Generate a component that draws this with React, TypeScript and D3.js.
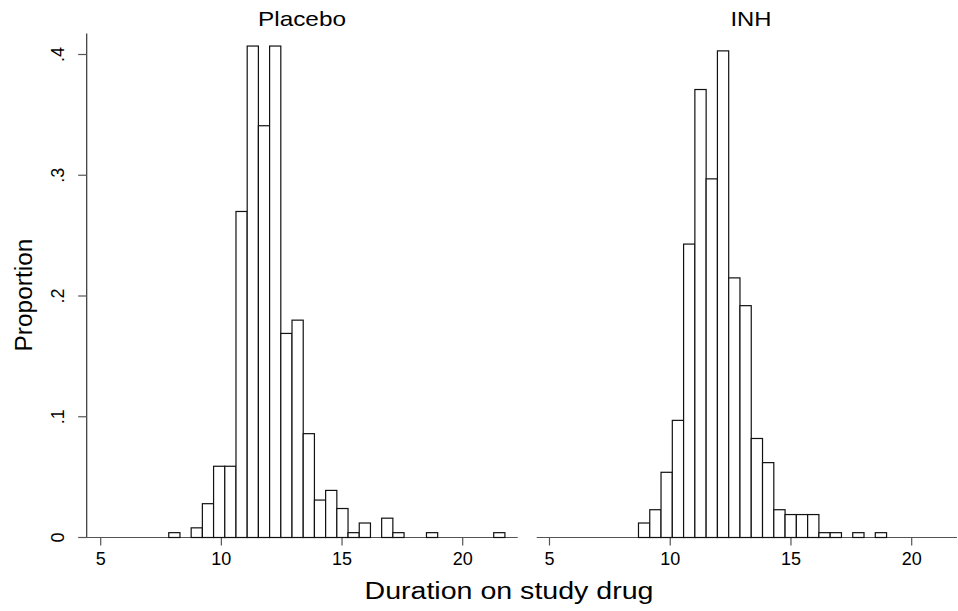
import React from 'react'
import { scaleLinear } from 'd3'

// Histogram bins (density scale, shown as "Proportion")
const placeboStart = 7.82
const placeboWidth = 0.4643
const placeboHeights = [
  0.004, 0, 0.008, 0.028, 0.059, 0.059, 0.270, 0.407, 0.341, 0.407,
  0.169, 0.180, 0.086, 0.031, 0.039, 0.024, 0.004, 0.012, 0, 0.016,
  0.004, 0, 0, 0.004, 0, 0, 0, 0, 0, 0.004,
]

const inhStart = 8.685
const inhWidth = 0.467
const inhHeights = [
  0.012, 0.023, 0.054, 0.097, 0.243, 0.371, 0.297, 0.403, 0.215, 0.192,
  0.082, 0.062, 0.023, 0.019, 0.019, 0.019, 0.004, 0.004, 0, 0.004,
  0, 0.004,
]

const xTicks = [5, 10, 15, 20]
const yTicks = [0, 0.1, 0.2, 0.3, 0.4]
const yTickLabels = ['0', '.1', '.2', '.3', '.4']

const panels = [
  { title: 'Placebo', start: placeboStart, width: placeboWidth, heights: placeboHeights,
    range: [100.7, 462.7], axisFrom: 86.7, axisTo: 517.7, titleX: 302, titleLen: 88 },
  { title: 'INH', start: inhStart, width: inhWidth, heights: inhHeights,
    range: [549.5, 911.7], axisFrom: 536.7, axisTo: 957, titleX: 751, titleLen: 41 },
]

const font = '"Liberation Sans", Arial, Helvetica, sans-serif'

const App = () => {
  const yScale = scaleLinear().domain([0, 0.4]).range([537.5, 54.5])
  const yAxisX = 86.7

  return (
    <svg width={958} height={611} style={{ position: 'absolute', left: 0, top: 0, background: '#fff' }}
      fontFamily={font}>
      <rect width={958} height={611} fill="#fff" />

      {/* y axis */}
      <line x1={yAxisX} x2={yAxisX} y1={33.5} y2={yScale(0)} stroke="#333" strokeWidth={1.2} />
      {yTicks.map((t, i) => (
        <g key={t}>
          <line x1={yAxisX - 8.5} x2={yAxisX} y1={yScale(t)} y2={yScale(t)} stroke="#555" strokeWidth={1.2} />
          <text transform={`translate(64,${yScale(t)}) rotate(-90)`} textAnchor="middle"
            fontSize={18} fill="#000">{yTickLabels[i]}</text>
        </g>
      ))}
      <text transform="translate(31.5,295) rotate(-90)" textAnchor="middle" fontSize={23}
        textLength={113} lengthAdjust="spacingAndGlyphs" fill="#000">Proportion</text>

      {panels.map((p) => {
        const xScale = scaleLinear().domain([5, 20]).range(p.range)
        return (
          <g key={p.title}>
            <text x={p.titleX} y={25.7} textAnchor="middle" fontSize={21}
              textLength={p.titleLen} lengthAdjust="spacingAndGlyphs" fill="#000">{p.title}</text>
            <line x1={p.axisFrom} x2={p.axisTo} y1={yScale(0)} y2={yScale(0)} stroke="#555" strokeWidth={1.2} />
            {xTicks.map((t) => (
              <g key={t}>
                <line x1={xScale(t)} x2={xScale(t)} y1={yScale(0)} y2={yScale(0) + 8} stroke="#555" strokeWidth={1.2} />
                <text x={xScale(t)} y={565} textAnchor="middle" fontSize={18} fill="#000">{t}</text>
              </g>
            ))}
            {p.heights.map((h, i) => {
              if (h <= 0) return null
              const x0 = xScale(p.start + i * p.width)
              const x1 = xScale(p.start + (i + 1) * p.width)
              return (
                <rect key={i} x={x0} y={yScale(h)} width={x1 - x0} height={yScale(0) - yScale(h)}
                  fill="#fff" stroke="#111" strokeWidth={1.2} />
              )
            })}
          </g>
        )
      })}

      <text x={509} y={599} textAnchor="middle" fontSize={23}
        textLength={289} lengthAdjust="spacingAndGlyphs" fill="#000">Duration on study drug</text>
    </svg>
  )
}

export default App
